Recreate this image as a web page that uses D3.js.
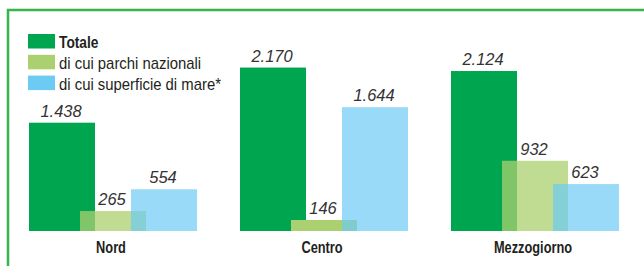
<!DOCTYPE html>
<html lang="it">
<head>
  <meta charset="UTF-8">
  <title>Aree protette per ripartizione</title>
  <script src="https://d3js.org/d3.v7.min.js"></script>
  <style>
    body { margin: 0; background: #fff; }
    svg { display: block; }
    text { font-family: "Liberation Sans", Arial, sans-serif; }
  </style>
</head>
<body>
  <svg width="644" height="266"></svg>
  <script>
    // dati (valori in migliaia di ettari)
    const regions = ["Nord", "Centro", "Mezzogiorno"];
    const series = ["Totale", "di cui parchi nazionali", "di cui superficie di mare*"];
    const totale = [1438, 2170, 2124];
    const parchi = [265, 146, 932];
    const mare = [554, 1644, 623];
    const valueLabels = [
      ["1.438", "265", "554"],
      ["2.170", "146", "1.644"],
      ["2.124", "932", "623"]
    ];

    const barColors = ["#00a54f", "#abd06f", "#6ccaf3"];
    const barOpacity = [1, 0.75, 0.7];

    const svg = d3.select("svg");

    // testo "condensato": Liberation Sans stretto in orizzontale
    function narrowText(parent, x, y, sx, str) {
      return parent.append("text")
        .attr("transform", `translate(${x},${y}) scale(${sx},1)`)
        .text(str);
    }

    // cornice verde
    svg.append("rect")
      .attr("x", 8).attr("y", 10)
      .attr("width", 700).attr("height", 300)
      .attr("fill", "none")
      .attr("stroke", "#35b54a")
      .attr("stroke-width", 2.5);

    const y = d3.scaleLinear().domain([0, 2500]).range([231, 42.7]);
    const x0 = d3.scaleBand().domain(regions).range([29, 662]).padding(0);
    const x1 = d3.scalePoint().domain(series).range([0, 102]);
    const barW = 66;

    const values = [totale, parchi, mare];

    const groups = svg.append("g").selectAll("g")
      .data(regions)
      .enter().append("g")
      .attr("transform", d => `translate(${x0(d)},0)`);

    groups.each(function(region, ri) {
      const g = d3.select(this);
      series.forEach((s, si) => {
        const v = values[si][ri];
        // in Centro la barra dei parchi e' piena
        const op = (region === "Centro" && si === 1) ? 1 : barOpacity[si];
        g.append("rect")
          .attr("x", x1(s))
          .attr("y", y(v))
          .attr("width", barW)
          .attr("height", y(0) - y(v))
          .attr("fill", barColors[si])
          .attr("fill-opacity", op);
      });
      series.forEach((s, si) => {
        const v = values[si][ri];
        narrowText(g, x1(s) + barW / 2 - 1, y(v) - 6, 0.97, valueLabels[ri][si])
          .attr("text-anchor", "middle")
          .attr("font-size", 17)
          .attr("font-style", "italic")
          .attr("fill", "#333");
      });
      narrowText(g, (x1.range()[1] + barW) / 2 - 2, 253, 0.8, region)
        .attr("text-anchor", "middle")
        .attr("font-size", 16)
        .attr("font-weight", "bold")
        .attr("fill", "#231f20");
    });

    // legenda
    const legend = svg.append("g").attr("transform", "translate(28,34)");
    series.forEach((s, i) => {
      legend.append("rect")
        .attr("x", 0).attr("y", i * 20.8)
        .attr("width", 27).attr("height", 14.5)
        .attr("fill", barColors[i]);
      narrowText(legend, 31, i * 20.8 + 14.3, i === 0 ? 0.86 : 0.93, s)
        .attr("font-size", 16)
        .attr("font-weight", i === 0 ? "bold" : "normal")
        .attr("fill", "#231f20");
    });
  </script>
</body>
</html>
